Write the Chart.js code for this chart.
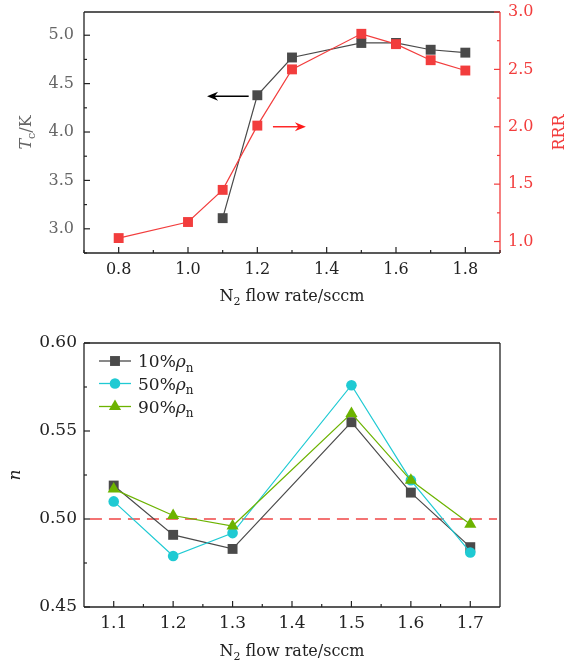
<!DOCTYPE html>
<html><head><meta charset="utf-8">
<script src="https://cdn.jsdelivr.net/npm/chart.js@4.4.1/dist/chart.umd.min.js"></script>
<style>
body{margin:0;background:#fff;width:577px;height:662px;overflow:hidden;position:relative}
canvas{position:absolute;left:0}
#c1{top:0}
#c2{top:320px}
</style>
</head><body>
<canvas id="c1" width="577" height="320"></canvas>
<canvas id="c2" width="577" height="342"></canvas>
<script>
// ---------- data (top chart) ----------
const flowRRR = [0.8, 1.0, 1.1, 1.2, 1.3, 1.5, 1.6, 1.7, 1.8];
const rrrValues = [1.03, 1.17, 1.45, 2.01, 2.50, 2.81, 2.72, 2.58, 2.49];
const flowTc = [1.1, 1.2, 1.3, 1.5, 1.6, 1.7, 1.8];
const tcValues = [3.11, 4.38, 4.77, 4.92, 4.92, 4.85, 4.82];
const topXTicks = [0.8, 1.0, 1.2, 1.4, 1.6, 1.8];
const topXMinor = [0.7, 0.9, 1.1, 1.3, 1.5, 1.7, 1.9];
const tcTicks = [3.0, 3.5, 4.0, 4.5, 5.0];
const tcMinor = [2.75, 3.25, 3.75, 4.25, 4.75];
const rrrTicks = [1.0, 1.5, 2.0, 2.5, 3.0];
const rrrMinor = [1.25, 1.75, 2.25, 2.75];
const arrowTc = {from: 1.175, to: 1.055, y: 4.37};
const arrowRRR = {from: 1.245, to: 1.34, y: 2.0};

// ---------- data (bottom chart) ----------
const flowN = [1.1, 1.2, 1.3, 1.5, 1.6, 1.7];
const n10 = [0.519, 0.491, 0.483, 0.555, 0.515, 0.484];
const n50 = [0.510, 0.479, 0.492, 0.576, 0.522, 0.481];
const n90 = [0.517, 0.502, 0.496, 0.560, 0.522, 0.497];
const botXTicks = [1.1, 1.2, 1.3, 1.4, 1.5, 1.6, 1.7];
const botXMinor = [1.15, 1.25, 1.35, 1.45, 1.55, 1.65];
const nTicks = [0.45, 0.50, 0.55, 0.60];
const nMinor = [0.475, 0.525, 0.575];
const refLine = {value: 0.50, from: 1.06, to: 1.745};
const legendLabels = ['10%', '50%', '90%'];

// ---------- styles ----------
const FONT = '"DejaVu Serif", "Liberation Serif", serif';
const RED = '#f23d3d';
const DARK = '#4a4a4a';
const CYAN = '#1fcad3';
const GREEN = '#6cb300';
const AXIS = '#222222';

function pts(xs, ys){ return xs.map((x,i)=>({x:x, y:ys[i]})); }
function noPad(s){ s.paddingTop = 0; s.paddingBottom = 0; s.paddingLeft = 0; s.paddingRight = 0; }

function fontFor(p, size){
  const s = p.sub ? Math.round(size*0.7) : size;
  return (p.it ? 'italic ' : '') + s + 'px ' + FONT;
}
function drawRich(ctx, parts, x, y, size, color, rot, align){
  ctx.save();
  ctx.translate(x, y);
  if (rot) ctx.rotate(rot);
  let total = 0;
  parts.forEach(p=>{ ctx.font = fontFor(p,size); total += ctx.measureText(p.t).width; });
  let cx = align === 'left' ? 0 : -total/2;
  ctx.textBaseline = 'alphabetic';
  ctx.fillStyle = color;
  parts.forEach(p=>{
    ctx.font = fontFor(p,size);
    const dy = p.sub ? size*0.28 : 0;
    ctx.fillText(p.t, cx, size*0.36 + dy);
    cx += ctx.measureText(p.t).width;
  });
  ctx.restore();
}

function drawTicks(chart, scaleId, majors, minors, color, side){
  const ctx = chart.ctx, a = chart.chartArea, sc = chart.scales[scaleId];
  ctx.save();
  ctx.strokeStyle = color; ctx.lineWidth = 1.2;
  const one = (v, len)=>{
    const p = sc.getPixelForValue(v);
    ctx.beginPath();
    if (side === 'bottom'){ ctx.moveTo(p, a.bottom); ctx.lineTo(p, a.bottom-len); }
    else if (side === 'left'){ ctx.moveTo(a.left, p); ctx.lineTo(a.left+len, p); }
    else { ctx.moveTo(a.right, p); ctx.lineTo(a.right-len, p); }
    ctx.stroke();
  };
  majors.forEach(v=>one(v,6));
  minors.forEach(v=>one(v,3));
  ctx.restore();
}
function drawBorders(chart, colors){
  const ctx = chart.ctx, a = chart.chartArea;
  ctx.save(); ctx.lineWidth = 1.3;
  const seg = (x1,y1,x2,y2,c)=>{ ctx.strokeStyle=c; ctx.beginPath(); ctx.moveTo(x1,y1); ctx.lineTo(x2,y2); ctx.stroke(); };
  seg(a.left, a.top, a.right, a.top, colors.top);
  seg(a.left, a.bottom, a.right, a.bottom, colors.bottom);
  seg(a.left, a.top, a.left, a.bottom, colors.left);
  seg(a.right, a.top, a.right, a.bottom, colors.right);
  ctx.restore();
}
function drawArrow(ctx, x1, y, x2, color){
  const dir = Math.sign(x2 - x1);
  ctx.save();
  ctx.strokeStyle = color; ctx.fillStyle = color; ctx.lineWidth = 1.4;
  ctx.beginPath(); ctx.moveTo(x1, y); ctx.lineTo(x2 - dir*4, y); ctx.stroke();
  ctx.beginPath();
  ctx.moveTo(x2, y);
  ctx.lineTo(x2 - dir*11, y - 4.5);
  ctx.lineTo(x2 - dir*7.5, y);
  ctx.lineTo(x2 - dir*11, y + 4.5);
  ctx.closePath(); ctx.fill();
  ctx.restore();
}

// ---------- top chart ----------
const topDecor = {
  id: 'topDecor',
  beforeDatasetsDraw(chart){
    drawBorders(chart, {top:AXIS, bottom:AXIS, left:AXIS, right:RED});
    drawTicks(chart, 'x', topXTicks, topXMinor, AXIS, 'bottom');
    drawTicks(chart, 'y', tcTicks, tcMinor, AXIS, 'left');
    drawTicks(chart, 'y1', rrrTicks, rrrMinor, RED, 'right');
  },
  afterDatasetsDraw(chart){
    const ctx = chart.ctx, x = chart.scales.x;
    drawArrow(ctx, x.getPixelForValue(arrowTc.from), chart.scales.y.getPixelForValue(arrowTc.y), x.getPixelForValue(arrowTc.to), '#000');
    drawArrow(ctx, x.getPixelForValue(arrowRRR.from), chart.scales.y1.getPixelForValue(arrowRRR.y), x.getPixelForValue(arrowRRR.to), '#ff1a1a');
  },
  afterDraw(chart){
    const ctx = chart.ctx, a = chart.chartArea;
    const cy = (a.top + a.bottom)/2;
    drawRich(ctx, [{t:'T', it:true},{t:'c', sub:true},{t:'/K'}], 25, cy, 16, '#666', -Math.PI/2);
    drawRich(ctx, [{t:'RRR'}], 558, cy, 16, RED, -Math.PI/2);
    drawRich(ctx, [{t:'N'},{t:'2', sub:true},{t:' flow rate/sccm'}], (a.left+a.right)/2, 295, 16, AXIS, 0);
  }
};

new Chart(document.getElementById('c1'), {
  type: 'line',
  data: {
    datasets: [
      { label:'RRR', data: pts(flowRRR, rrrValues), yAxisID:'y1',
        borderColor: RED, backgroundColor: RED, borderWidth: 1.2,
        pointStyle:'rect', pointRadius: 7, pointBorderWidth: 0, pointBackgroundColor: RED },
      { label:'Tc', data: pts(flowTc, tcValues), yAxisID:'y',
        borderColor: DARK, backgroundColor: DARK, borderWidth: 1.2,
        pointStyle:'rect', pointRadius: 7, pointBorderWidth: 0, pointBackgroundColor: DARK }
    ]
  },
  options: {
    responsive: false, animation: false, devicePixelRatio: 1,
    layout: { padding: { top: 12, left: 0, right: 0, bottom: 0 } },
    plugins: { legend:{display:false}, tooltip:{enabled:false} },
    scales: {
      x: { type:'linear', min:0.7, max:1.9, position:'bottom',
        grid:{display:false, drawTicks:false}, border:{display:false},
        afterBuildTicks: s=>{ s.ticks = topXTicks.map(v=>({value:v})); },
        afterFit: s=>{ s.height = 67; noPad(s); },
        ticks:{ padding: 7, color: AXIS, font:{family:FONT, size:16}, callback:v=>v.toFixed(1), maxRotation:0, autoSkip:false } },
      y: { type:'linear', min:2.75, max:5.24, position:'left',
        grid:{display:false, drawTicks:false}, border:{display:false},
        afterBuildTicks: s=>{ s.ticks = tcTicks.map(v=>({value:v})); },
        afterFit: s=>{ s.width = 84; noPad(s); },
        ticks:{ padding: 10, color: '#666', font:{family:FONT, size:16}, callback:v=>v.toFixed(1) } },
      y1: { type:'linear', min:0.9, max:3.0, position:'right',
        grid:{display:false, drawTicks:false}, border:{display:false},
        afterBuildTicks: s=>{ s.ticks = rrrTicks.map(v=>({value:v})); },
        afterFit: s=>{ s.width = 77; noPad(s); },
        ticks:{ padding: 8, color: RED, font:{family:FONT, size:16}, callback:v=>v.toFixed(1) } }
    }
  },
  plugins: [topDecor]
});

// ---------- bottom chart ----------
const botDecor = {
  id: 'botDecor',
  beforeDatasetsDraw(chart){
    drawBorders(chart, {top:AXIS, bottom:AXIS, left:AXIS, right:AXIS});
    drawTicks(chart, 'x', botXTicks, botXMinor, AXIS, 'bottom');
    drawTicks(chart, 'y', nTicks, nMinor, AXIS, 'left');
    const ctx = chart.ctx, x = chart.scales.x, y = chart.scales.y;
    ctx.save();
    ctx.strokeStyle = '#f04545'; ctx.lineWidth = 1.6; ctx.setLineDash([12, 7]);
    const py = y.getPixelForValue(refLine.value);
    ctx.beginPath(); ctx.moveTo(x.getPixelForValue(refLine.from), py); ctx.lineTo(x.getPixelForValue(refLine.to), py); ctx.stroke();
    ctx.restore();
  },
  afterDraw(chart){
    const ctx = chart.ctx, a = chart.chartArea;
    drawRich(ctx, [{t:'n', it:true}], 14, (a.top+a.bottom)/2, 17, AXIS, -Math.PI/2);
    drawRich(ctx, [{t:'N'},{t:'2', sub:true},{t:' flow rate/sccm'}], (a.left+a.right)/2, 330, 16, AXIS, 0);
    // legend
    const rows = [41, 63.5, 86.5];
    chart.data.datasets.forEach((ds, i)=>{
      const yy = rows[i];
      ctx.save();
      ctx.strokeStyle = ds.borderColor; ctx.lineWidth = 1.3;
      ctx.beginPath(); ctx.moveTo(99, yy); ctx.lineTo(131, yy); ctx.stroke();
      ctx.fillStyle = ds.pointBackgroundColor; ctx.strokeStyle = ds.pointBackgroundColor;
      Chart.helpers.drawPoint(ctx, {pointStyle: ds.pointStyle, radius: ds.pointRadius, rotation:0, borderWidth:0}, 115, yy);
      ctx.restore();
      drawRich(ctx, [{t:legendLabels[i]},{t:'ρ', it:true},{t:'n', sub:true}], 138, yy, 17, AXIS, 0, 'left');
    });
  }
};

new Chart(document.getElementById('c2'), {
  type: 'line',
  data: {
    datasets: [
      { label:'10%', data: pts(flowN, n10), order: 3,
        borderColor: DARK, backgroundColor: DARK, borderWidth: 1.2,
        pointStyle:'rect', pointRadius: 7, pointBorderWidth: 0, pointBackgroundColor: DARK },
      { label:'50%', data: pts(flowN, n50), order: 2,
        borderColor: CYAN, backgroundColor: CYAN, borderWidth: 1.2,
        pointStyle:'circle', pointRadius: 5.3, pointBorderWidth: 0, pointBackgroundColor: CYAN },
      { label:'90%', data: pts(flowN, n90), order: 1,
        borderColor: GREEN, backgroundColor: GREEN, borderWidth: 1.2,
        pointStyle:'triangle', pointRadius: 7, pointBorderWidth: 0, pointBackgroundColor: GREEN }
    ]
  },
  options: {
    responsive: false, animation: false, devicePixelRatio: 1,
    layout: { padding: { top: 23, left: 0, right: 77, bottom: 0 } },
    plugins: { legend:{display:false}, tooltip:{enabled:false} },
    scales: {
      x: { type:'linear', min:1.05, max:1.75, position:'bottom',
        grid:{display:false, drawTicks:false}, border:{display:false},
        afterBuildTicks: s=>{ s.ticks = botXTicks.map(v=>({value:v})); },
        afterFit: s=>{ s.height = 55; noPad(s); },
        ticks:{ padding: 6, color: AXIS, font:{family:FONT, size:17}, callback:v=>v.toFixed(1), maxRotation:0, autoSkip:false } },
      y: { type:'linear', min:0.45, max:0.60, position:'left',
        grid:{display:false, drawTicks:false}, border:{display:false},
        afterBuildTicks: s=>{ s.ticks = nTicks.map(v=>({value:v})); },
        afterFit: s=>{ s.width = 84; noPad(s); },
        ticks:{ padding: 7, color: AXIS, font:{family:FONT, size:17}, callback:v=>v.toFixed(2) } }
    }
  },
  plugins: [botDecor]
});
</script>
</body></html>
